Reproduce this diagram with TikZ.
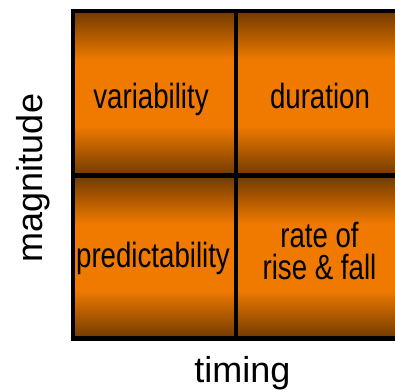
\documentclass[tikz,border=0pt]{standalone}
\usepackage{fontspec}
\setmainfont{Liberation Sans}
\newfontfamily\cellfont[FakeStretch=0.79]{Liberation Sans}
\definecolor{dk}{RGB}{112,58,0}
\definecolor{br}{RGB}{240,122,0}
\pgfdeclareverticalshading{cellshade}{100bp}{color(0bp)=(dk); color(25bp)=(dk); color(40bp)=(br); color(60bp)=(br); color(75bp)=(dk); color(100bp)=(dk)}
\begin{document}
\begin{tikzpicture}[x=1pt,y=-1pt,
  celltext/.style={font=\cellfont\fontsize{35}{32}\selectfont, inner sep=0pt, anchor=base},
  axislabel/.style={font=\fontsize{36}{40}\selectfont, inner sep=0pt, anchor=base},
  gridline/.style={line width=4.5pt, black, line cap=rect}]
\useasboundingbox (0,0) rectangle (395,389);
\begin{scope}
\clip (0,0) rectangle (395,389);
\shade[shading=cellshade] (73,11) rectangle (236,175.5);
\shade[shading=cellshade] (236,11) rectangle (399,175.5);
\shade[shading=cellshade] (73,175.5) rectangle (236,338.5);
\shade[shading=cellshade] (236,175.5) rectangle (399,338.5);
\coordinate (tl) at (73,11);
\coordinate (tr) at (405,11);
\coordinate (bl) at (73,338.5);
\coordinate (br) at (405,338.5);
\coordinate (mt) at (236,11);
\coordinate (mb) at (236,338.5);
\coordinate (ml) at (73,175.5);
\coordinate (mr) at (405,175.5);
\draw[gridline] (tr) -- (tl) -- (bl) -- (br);
\draw[gridline] (mt) -- (mb);
\draw[gridline] (ml) -- (mr);
\end{scope}
\node[celltext] (var) at (151,108) {variability};
\node[celltext] (dur) at (320,108) {duration};
\node[celltext] (pred) at (153,267) {predictability};
\node[celltext] (rate) at (319.5,247) {rate of};
\node[celltext] (rise) at (319.5,279) {rise \& fall};
\node[axislabel, rotate=90] (mag) at (42,178) {magnitude};
\node[axislabel] (tim) at (242.5,382) {timing};
\end{tikzpicture}
\end{document}
